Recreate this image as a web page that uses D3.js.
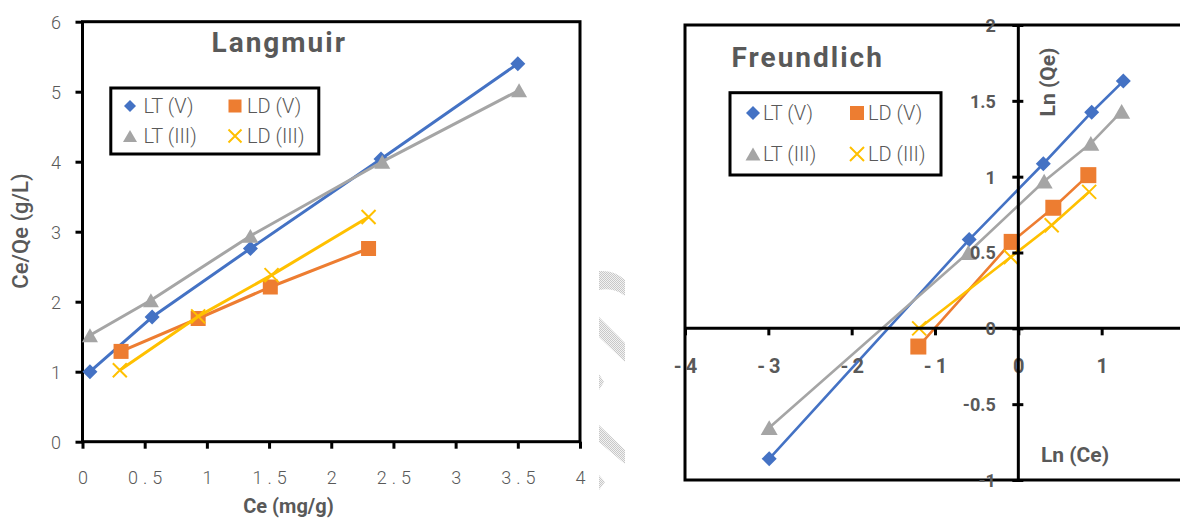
<!DOCTYPE html>
<html>
<head>
<meta charset="utf-8">
<script src="https://cdn.jsdelivr.net/npm/d3@7"></script>
<style>
  html, body { margin: 0; padding: 0; background: #fff; }
  svg { display: block; font-family: Roboto, "Liberation Sans", sans-serif; }
</style>
</head>
<body>
<svg id="chart" width="1180" height="520"></svg>
<script>
// ---- series names (same order in both panels) ----
const seriesNames = ["LT (V)", "LD (V)", "LT (III)", "LD (III)"];

// ---- Langmuir: Ce (mg/g) vs Ce/Qe (g/L) ----
const langmuirCe_LTV    = [0.06, 0.56, 1.35, 2.40, 3.50];
const langmuirCeQe_LTV  = [1.00, 1.78, 2.76, 4.04, 5.40];
const langmuirCe_LDV    = [0.31, 0.93, 1.51, 2.30];
const langmuirCeQe_LDV  = [1.29, 1.76, 2.21, 2.76];
const langmuirCe_LTIII  = [0.06, 0.55, 1.35, 2.41, 3.51];
const langmuirCeQe_LTIII= [1.52, 2.02, 2.94, 4.00, 5.02];
const langmuirCe_LDIII  = [0.30, 0.93, 1.52, 2.30];
const langmuirCeQe_LDIII= [1.02, 1.79, 2.38, 3.21];

// ---- Freundlich: Ln(Ce) vs Ln(Qe) ----
const freundlichLnCe_LTV   = [-2.99, -0.59, 0.30, 0.88, 1.26];
const freundlichLnQe_LTV   = [-0.86, 0.585, 1.085, 1.425, 1.63];
const freundlichLnCe_LDV   = [-1.20, -0.08, 0.42, 0.84];
const freundlichLnQe_LDV   = [-0.12, 0.57, 0.795, 1.01];
const freundlichLnCe_LTIII = [-2.99, -0.60, 0.31, 0.87, 1.24];
const freundlichLnQe_LTIII = [-0.655, 0.50, 0.97, 1.22, 1.43];
const freundlichLnCe_LDIII = [-1.19, -0.09, 0.40, 0.85];
const freundlichLnQe_LDIII = [0.0, 0.47, 0.68, 0.90];

// ---- tick labels ----
const langmuirXTicks   = [0, 0.5, 1, 1.5, 2, 2.5, 3, 3.5, 4];
const langmuirYTicks   = [0, 1, 2, 3, 4, 5, 6];
const freundlichXTicks = [-4, -3, -2, -1, 0, 1, 2];
const freundlichYTicks = [-1, -0.5, 0, 0.5, 1, 1.5, 2];

// ---- styling ----
const colors = ["#4472C4", "#ED7D31", "#A5A5A5", "#FFC000"];
const shapes = ["diamond", "square", "triangle", "cross"];
const textGray = "#595959";

const zip = (xs, ys) => xs.map((x, i) => ({ x, y: ys[i] }));
const langmuirSeries = [
  zip(langmuirCe_LTV, langmuirCeQe_LTV),
  zip(langmuirCe_LDV, langmuirCeQe_LDV),
  zip(langmuirCe_LTIII, langmuirCeQe_LTIII),
  zip(langmuirCe_LDIII, langmuirCeQe_LDIII)
];
const freundlichSeries = [
  zip(freundlichLnCe_LTV, freundlichLnQe_LTV),
  zip(freundlichLnCe_LDV, freundlichLnQe_LDV),
  zip(freundlichLnCe_LTIII, freundlichLnQe_LTIII),
  zip(freundlichLnCe_LDIII, freundlichLnQe_LDIII)
];

const svg = d3.select("#chart");
svg.append("rect").attr("width", 1180).attr("height", 520).attr("fill", "#fff");

// draws one marker symbol centred on the current group origin
function drawMarker(g, shape, color, s) {
  if (shape === "diamond") {
    g.append("path").attr("d", `M0,${-s/2}L${s/2},0L0,${s/2}L${-s/2},0Z`).attr("fill", color);
  } else if (shape === "square") {
    g.append("rect").attr("x", -s/2).attr("y", -s/2).attr("width", s).attr("height", s).attr("fill", color);
  } else if (shape === "triangle") {
    const h = s * 0.87;
    g.append("path").attr("d", `M0,${-h/2}L${s/2},${h/2}L${-s/2},${h/2}Z`).attr("fill", color);
  } else {
    const r = s / 2;
    g.append("path").attr("d", `M${-r},${-r}L${r},${r}M${-r},${r}L${r},${-r}`)
      .attr("stroke", color).attr("stroke-width", 2).attr("fill", "none");
  }
}

function drawSeries(layer, series, xs, ys, lineW, sizes) {
  series.forEach((pts, i) => {
    layer.append("path")
      .attr("d", d3.line().x(d => xs(d.x)).y(d => ys(d.y))(pts))
      .attr("fill", "none").attr("stroke", colors[i]).attr("stroke-width", lineW)
      .attr("stroke-linejoin", "round");
    pts.forEach(d => {
      const g = layer.append("g").attr("transform", `translate(${xs(d.x)},${ys(d.y)})`);
      drawMarker(g, shapes[i], colors[i], sizes[i]);
    });
  });
}

function drawLegend(box, cols, rows, textX, markerSizes) {
  const lg = svg.append("g");
  lg.append("rect").attr("x", box.x).attr("y", box.y).attr("width", box.w).attr("height", box.h)
    .attr("fill", "#fff").attr("stroke", "#000").attr("stroke-width", 3);
  seriesNames.forEach((name, i) => {
    const c = i % 2, r = Math.floor(i / 2);
    const g = lg.append("g").attr("transform", `translate(${cols[c]},${rows[r]})`);
    drawMarker(g, shapes[i], colors[i], markerSizes[i]);
    lg.append("text").attr("x", textX[c]).attr("y", rows[r] + 7.3)
      .attr("font-size", 20).attr("font-weight", 300).attr("fill", textGray)
      .text(name);
  });
}

// ================= Langmuir panel =================
const lx = d3.scaleLinear().domain([0, 4]).range([82.5, 580]);
const ly = d3.scaleLinear().domain([0, 6]).range([441.7, 21.7]);

const lAxisX = svg.append("g").attr("transform", `translate(0,${ly(0)})`)
  .call(d3.axisBottom(lx).tickValues(langmuirXTicks).tickSize(7).tickSizeOuter(0).tickFormat(d => String(d)));
const lAxisY = svg.append("g").attr("transform", `translate(${lx(0)},0)`)
  .call(d3.axisLeft(ly).tickValues(langmuirYTicks).tickSize(7).tickSizeOuter(0).tickFormat(d => String(d)));
[lAxisX, lAxisY].forEach(a => {
  a.select(".domain").remove();
  a.selectAll(".tick line").attr("stroke", "#000").attr("stroke-width", 3);
  a.selectAll(".tick text").attr("font-size", 18).attr("font-weight", 300).attr("fill", textGray)
    .attr("font-family", "Roboto, sans-serif");
});
lAxisX.selectAll(".tick text").attr("y", 36).attr("dy", "0.36em").attr("dx", 2.5)
  .style("letter-spacing", "5px");
lAxisY.selectAll(".tick text").attr("x", -21.5).attr("dy", "0.36em");

svg.append("rect").attr("x", lx(0)).attr("y", ly(6)).attr("width", lx(4) - lx(0)).attr("height", ly(0) - ly(6))
  .attr("fill", "none").attr("stroke", "#000").attr("stroke-width", 3);

drawSeries(svg.append("g"), langmuirSeries, lx, ly, 3, [15, 15, 16, 14]);

svg.append("text").attr("x", 211.5).attr("y", 51.7).attr("font-size", 28).attr("font-weight", 700)
  .attr("fill", textGray).style("letter-spacing", "2px").text("Langmuir");
svg.append("text").attr("x", 288.5).attr("y", 512.5).attr("text-anchor", "middle")
  .attr("font-size", 20).attr("font-weight", 700).attr("fill", textGray).text("Ce (mg/g)");
svg.append("text").attr("transform", "translate(27.5,231) rotate(-90)").attr("text-anchor", "middle")
  .attr("font-size", 22).attr("font-weight", 500).attr("fill", textGray).text("Ce/Qe (g/L)");

drawLegend({ x: 110.8, y: 88, w: 208, h: 66 }, [130, 235], [106, 136], [143.5, 247], [12, 13, 14, 13]);

// ================= Freundlich panel =================
const fx = d3.scaleLinear().domain([-4, 2]).range([685, 1185]);
const fy = d3.scaleLinear().domain([-1, 2]).range([480, 25]);

svg.append("rect").attr("x", fx(-4)).attr("y", fy(2)).attr("width", fx(2) - fx(-4)).attr("height", fy(-1) - fy(2))
  .attr("fill", "none").attr("stroke", "#000").attr("stroke-width", 3);

const fSeriesLayer = svg.append("g");

const fAxisX = svg.append("g").attr("transform", `translate(0,${fy(0)})`)
  .call(d3.axisBottom(fx).tickValues(freundlichXTicks).tickSize(7).tickSizeOuter(0).tickFormat(d => String(d)));
const fAxisY = svg.append("g").attr("transform", `translate(${fx(0)},0)`)
  .call(d3.axisLeft(fy).tickValues(freundlichYTicks).tickSize(6).tickSizeOuter(0).tickFormat(d => String(d)));
[fAxisX, fAxisY].forEach(a => {
  a.select(".domain").attr("stroke", "#000").attr("stroke-width", 3);
  a.selectAll(".tick line").attr("stroke", "#000").attr("stroke-width", 3);
  a.selectAll(".tick text").attr("font-weight", 700).attr("fill", textGray)
    .attr("font-family", "Roboto, sans-serif");
});
fAxisX.select(".domain").attr("d", `M${fx(-4)},0H${fx(2)}`);
fAxisY.select(".domain").attr("d", `M0,${fy(2)}V${fy(-1)}`);
fAxisY.selectAll(".tick line").attr("x1", 5);
fAxisX.selectAll(".tick text").attr("font-size", 20).attr("y", 37.7).attr("dy", "0.36em").attr("dx", 2)
  .style("letter-spacing", "4px");
fAxisY.selectAll(".tick text").attr("font-size", 18).attr("x", -22.5).attr("dy", "0.36em");

drawSeries(fSeriesLayer, freundlichSeries, fx, fy, 2.6, [15, 16, 17, 14]);

svg.append("text").attr("x", 731.5).attr("y", 67.3).attr("font-size", 28).attr("font-weight", 700)
  .attr("fill", textGray).style("letter-spacing", "2px").text("Freundlich");
svg.append("text").attr("transform", "translate(1055,82) rotate(-90)").attr("text-anchor", "middle")
  .attr("font-size", 21).attr("font-weight", 700).attr("fill", textGray).text("Ln (Qe)");
svg.append("text").attr("x", 1075).attr("y", 461.5).attr("text-anchor", "middle")
  .attr("font-size", 21).attr("font-weight", 700).attr("fill", textGray).text("Ln (Ce)");

drawLegend({ x: 730, y: 92.7, w: 211, h: 82.3 }, [753, 857], [113, 154], [763, 868], [14, 14, 15, 14]);

// ---- faint hatched marks in the gutter between the panels ----
const defs = svg.append("defs");
const pat = defs.append("pattern").attr("id", "hatch").attr("width", 2).attr("height", 2)
  .attr("patternUnits", "userSpaceOnUse");
pat.append("rect").attr("width", 2).attr("height", 2).attr("fill", "#f2f2f2");
pat.append("rect").attr("width", 1).attr("height", 1).attr("fill", "#c8c8c8");
pat.append("rect").attr("x", 1).attr("y", 1).attr("width", 1).attr("height", 1).attr("fill", "#c8c8c8");
const marks = [
  "M599,271Q615,270 625,280L625,296Q614,287 599,290Z",
  "M599,317L625,343L625,362L599,337Z",
  "M599,374L604,382L599,390Z",
  "M599,425L625,450L625,464L599,442Z",
  "M599,475L605,482L599,490Z"
];
svg.append("g").selectAll("path").data(marks).join("path").attr("d", d => d).attr("fill", "url(#hatch)");
</script>
</body>
</html>
